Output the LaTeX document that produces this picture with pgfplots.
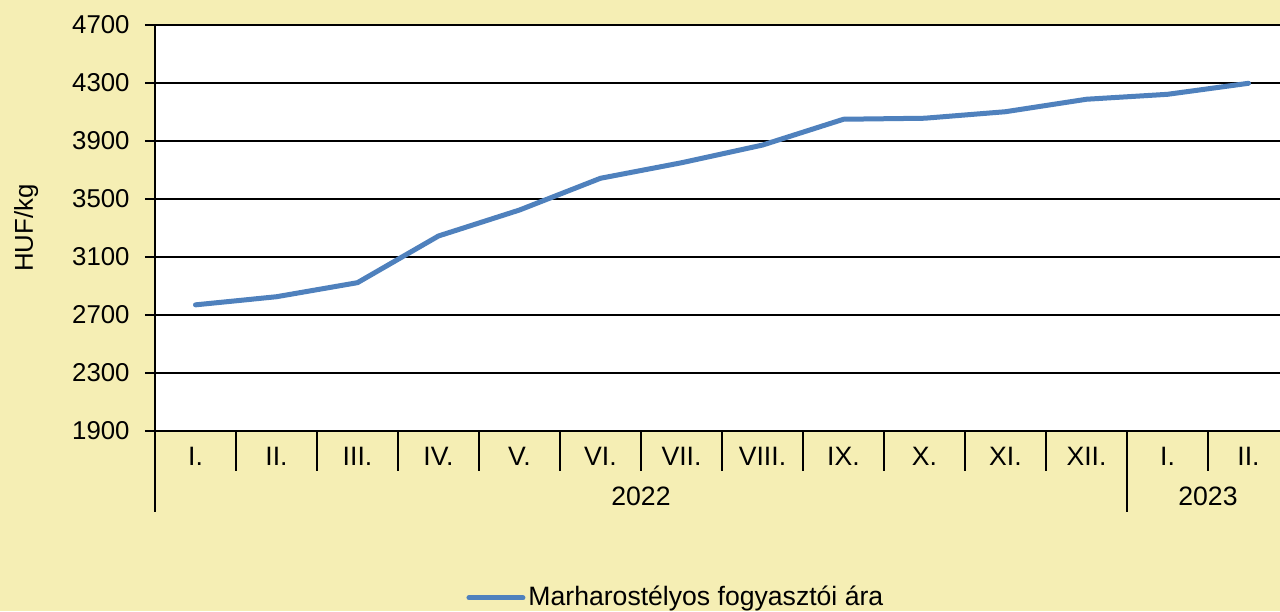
\documentclass[border=0pt]{standalone}
\usepackage{fontspec}
\setmainfont{Liberation Sans}
\usepackage{pgfplots}
\pgfplotsset{compat=1.18}
\definecolor{bg}{RGB}{245,238,180}
\definecolor{seriesblue}{RGB}{79,129,189}
\begin{document}
\fontsize{13}{15}\selectfont
\begin{tikzpicture}
\useasboundingbox (0,0) rectangle (640pt,305.5pt);
\fill[bg] (0,0) rectangle (640pt,305.5pt);
\begin{axis}[
  at={(77.5pt,90pt)}, anchor=south west,
  scale only axis, width=562.5pt, height=203pt,
  xmin=-0.5, xmax=13.389, ymin=1900, ymax=4700,
  clip=false,
  axis background/.style={fill=white},
  axis x line*=bottom, axis y line*=left,
  axis line style={line width=1.1pt, -},
  ytick={1900,2300,...,4700},
  ymajorgrids, major grid style={black, line width=0.9pt},
  tick align=outside, major tick length=5pt,
  y tick style={black, line width=1pt},
  x tick style={draw=none},
  xtick={0,...,13},
  xticklabels={I.,II.,III.,IV.,V.,VI.,VII.,VIII.,IX.,X.,XI.,XII.,I.,II.},
  xticklabel style={anchor=center, yshift=-7.5pt, font=\fontsize{13.3}{15}\selectfont},
  yticklabel style={anchor=east, inner sep=0pt, xshift=-7.5pt, font=\fontsize{12.9}{15}\selectfont},
  /pgf/number format/assume math mode=true,
  /pgf/number format/set thousands separator={},
  ylabel={HUF/kg},
  ylabel style={at={(axis description cs:-0.1145,0.5)}, anchor=center, font=\fontsize{12.9}{15}\selectfont},
  legend style={draw=none, fill=none, at={(0.2765,-0.411)}, anchor=west, inner sep=0pt, font=\fontsize{13.3}{15}\selectfont,
    nodes={inner xsep=1.5pt}},
  legend image code/.code={\draw[#1] (0pt,0pt) -- (27pt,0pt);},
]
\addplot[seriesblue, line width=2.5pt, line join=round, line cap=round] coordinates {
 (0,2770) (1,2826) (2,2923) (3,3245) (4,3424) (5,3643) (6,3750)
 (7,3872) (8,4050) (9,4057) (10,4102) (11,4188) (12,4222) (13,4298)
};
\addlegendentry{Marharostélyos fogyasztói ára}
\pgfplotsinvokeforeach{0.5,1.5,2.5,3.5,4.5,5.5,6.5,7.5,8.5,9.5,10.5,12.5}{
  \draw[black, line width=1.1pt] (axis cs:#1,1900) -- ++(0pt,-20pt);
}
\draw[black, line width=1.1pt] (axis cs:-0.5,1900) -- ++(0pt,-40.5pt);
\draw[black, line width=1.1pt] (axis cs:11.5,1900) -- ++(0pt,-40.5pt);
\node[anchor=center, inner sep=0pt, font=\fontsize{13.3}{15}\selectfont] at ([yshift=-32.5pt]axis cs:5.5,1900) {2022};
\node[anchor=center, inner sep=0pt, font=\fontsize{13.3}{15}\selectfont] at ([yshift=-32.5pt]axis cs:12.5,1900) {2023};
\end{axis}
\end{tikzpicture}
\end{document}
